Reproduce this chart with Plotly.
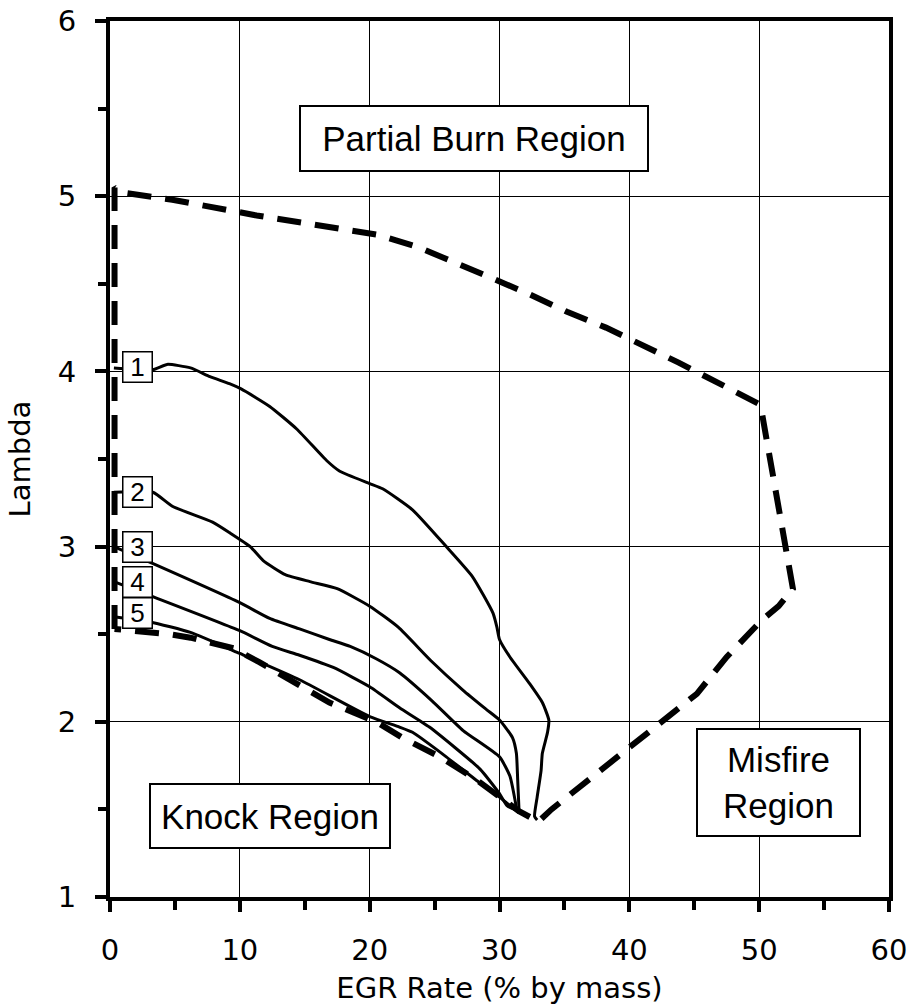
import plotly.graph_objects as go

# ---- data ----
boundary_x = [0.35, 0.35, 1.0, 4.8, 11.3, 17.6, 20.6, 23.7, 26.7, 29.5, 32.3, 35.2, 38.2, 41.0, 43.8, 50.1,
              52.6, 51.5, 50.2, 47.5, 45.2, 34.0, 33.0, 31.5, 28.2, 25.4, 22.5, 20.5, 16.9, 11.5, 9.5, 6.2, 4.6, 0.35]
boundary_y = [2.53, 5.05, 5.02, 4.98, 4.89, 4.82, 4.78, 4.71, 4.62, 4.53, 4.44, 4.34, 4.25, 4.15, 4.05, 3.81,
              2.76, 2.66, 2.58, 2.37, 2.16, 1.50, 1.43, 1.49, 1.67, 1.80, 1.91, 2.00, 2.11, 2.34, 2.42, 2.48, 2.50, 2.53]

c1_x = [0.3, 3.3, 4.4, 6.2, 7.7, 9.2, 10.1, 12.3, 14.4, 16.7, 17.7, 20.0, 21.0, 23.3, 25.9, 27.9, 29.5, 29.8,
        30.0, 30.8, 32.3, 33.3, 33.8, 33.7, 33.3, 33.2, 32.9, 32.7, 32.9]
c1_y = [4.02, 4.01, 4.04, 4.02, 3.97, 3.93, 3.90, 3.80, 3.67, 3.49, 3.43, 3.36, 3.33, 3.21, 3.00, 2.83, 2.62, 2.54,
        2.47, 2.37, 2.22, 2.11, 2.01, 1.94, 1.82, 1.72, 1.57, 1.46, 1.44]

c2_x = [0.3, 3.3, 4.8, 7.9, 9.2, 10.8, 11.8, 13.5, 15.4, 17.5, 20.0, 22.2, 24.7, 27.2, 29.0, 30.0, 31.0, 31.3, 31.4, 31.5]
c2_y = [3.31, 3.31, 3.23, 3.14, 3.08, 3.00, 2.92, 2.84, 2.80, 2.76, 2.66, 2.54, 2.35, 2.18, 2.07, 2.01, 1.91, 1.82, 1.67, 1.50]

c3_x = [0.3, 3.1, 10.0, 12.3, 14.6, 16.9, 18.5, 20.5, 22.3, 24.8, 27.2, 30.0, 30.8, 31.3]
c3_y = [3.00, 2.91, 2.68, 2.59, 2.53, 2.47, 2.43, 2.36, 2.28, 2.12, 1.95, 1.80, 1.69, 1.51]

c4_x = [0.3, 3.1, 10.0, 12.5, 14.6, 17.2, 20.0, 22.3, 24.6, 28.5, 30.0, 30.6, 31.5]
c4_y = [2.80, 2.72, 2.52, 2.43, 2.38, 2.31, 2.20, 2.08, 1.97, 1.73, 1.59, 1.52, 1.49]

c5_x = [0.3, 3.1, 6.2, 10.0, 14.6, 20.0, 22.3, 23.3, 25.9, 28.5, 30.0, 31.5]
c5_y = [2.60, 2.57, 2.51, 2.39, 2.24, 2.03, 1.97, 1.94, 1.80, 1.65, 1.57, 1.48]

curve_labels = ["1", "2", "3", "4", "5"]
label_x = [2.08, 2.08, 2.08, 2.08, 2.08]
label_y = [4.025, 3.31, 2.995, 2.80, 2.62]

region_text = ["Partial Burn Region", "Knock Region", "Misfire<br>Region"]
region_x = [28.04, 12.35, 51.5]
region_y = [5.332, 1.465, 1.651]

x_title = "EGR Rate (% by mass)"
y_title = "Lambda"

fig = go.Figure()

fig.add_trace(go.Scatter(x=boundary_x, y=boundary_y, mode="lines",
                         line=dict(color="black", width=6, dash="24px,14px"),
                         showlegend=False, hoverinfo="skip"))
for cx, cy in [(c1_x, c1_y), (c2_x, c2_y), (c3_x, c3_y), (c4_x, c4_y), (c5_x, c5_y)]:
    fig.add_trace(go.Scatter(x=cx, y=cy, mode="lines",
                             line=dict(color="black", width=3, shape="spline", smoothing=0.5),
                             showlegend=False, hoverinfo="skip"))

annos = []
for t, x, y in zip(curve_labels, label_x, label_y):
    annos.append(dict(x=x, y=y, xref="x", yref="y", text=t, showarrow=False,
                      font=dict(family="Liberation Sans, Arial", size=26, color="black"),
                      bgcolor="white", bordercolor="black", borderwidth=1.5, borderpad=0,
                      width=28, height=29, xanchor="center", yanchor="middle"))

sizes = [(346, 63), (238, 62), (161, 105)]
for t, x, y, (w, h) in zip(region_text, region_x, region_y, sizes):
    annos.append(dict(x=x, y=y, xref="x", yref="y", text=t, showarrow=False,
                      font=dict(family="Liberation Sans, Arial", size=35, color="black"),
                      bgcolor="white", bordercolor="black", borderwidth=2, borderpad=0,
                      width=w, height=h, xanchor="center", yanchor="middle"))

axis_common = dict(showline=True, linewidth=4, linecolor="black", mirror=True,
                   showgrid=True, gridcolor="black", gridwidth=1, zeroline=False,
                   ticks="outside", tickwidth=4, tickcolor="black", ticklen=11,
                   automargin=False,
                   tickfont=dict(family="DejaVu Sans, Verdana", size=29, color="black"))

fig.update_layout(
    width=909, height=1008,
    margin=dict(l=110, r=20, t=21, b=111),
    paper_bgcolor="white", plot_bgcolor="white",
    annotations=annos,
    xaxis=dict(range=[0, 60], dtick=10, tick0=0,
               minor=dict(dtick=5, ticks="outside", ticklen=9, tickwidth=4, tickcolor="black", showgrid=False),
               title=dict(text=x_title, font=dict(family="DejaVu Sans, Verdana", size=29, color="black"), standoff=13),
               ticklabelstandoff=13,
               **axis_common),
    yaxis=dict(range=[1, 6], dtick=1, tick0=1,
               minor=dict(dtick=0.5, ticks="outside", ticklen=8, tickwidth=4, tickcolor="black", showgrid=False),
               title=dict(text=y_title, font=dict(family="DejaVu Sans, Verdana", size=29, color="black"), standoff=20),
               ticklabelstandoff=13,
               **axis_common),
)

fig.write_html("out.html")
